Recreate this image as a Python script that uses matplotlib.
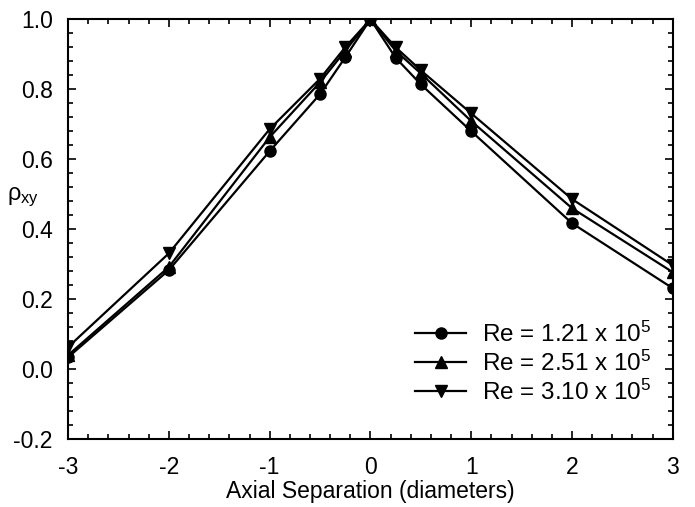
import matplotlib
matplotlib.use("Agg")
import matplotlib.pyplot as plt
from matplotlib.ticker import MultipleLocator

plt.rcParams['font.family'] = ['Liberation Sans', 'DejaVu Sans']
plt.rcParams['mathtext.fontset'] = 'custom'
plt.rcParams['mathtext.rm'] = 'Liberation Sans'
plt.rcParams['mathtext.it'] = 'Liberation Sans'

x = [-3, -2, -1, -0.5, -0.25, 0, 0.25, 0.5, 1, 2, 3]
re_121 = [0.034, 0.283, 0.623, 0.786, 0.891, 1.0, 0.89, 0.814, 0.68, 0.417, 0.231]
re_251 = [0.040, 0.292, 0.663, 0.820, 0.910, 1.0, 0.910, 0.845, 0.709, 0.460, 0.277]
re_310 = [0.063, 0.331, 0.686, 0.830, 0.920, 1.0, 0.920, 0.854, 0.731, 0.486, 0.297]
labels = ['Re = 1.21 x 10$^5$', 'Re = 2.51 x 10$^5$', 'Re = 3.10 x 10$^5$']
xticks = [-3, -2, -1, 0, 1, 2, 3]
yticks = [-0.2, 0.0, 0.2, 0.4, 0.6, 0.8, 1.0]

fig = plt.figure(figsize=(6.95, 5.07), dpi=100)
ax = fig.add_axes([0.098, 0.134, 0.870, 0.828])

ax.plot(x, re_121, color='black', lw=1.6, marker='o', ms=8, label=labels[0])
ax.plot(x, re_251, color='black', lw=1.6, marker='^', ms=8, label=labels[1])
ax.plot(x, re_310, color='black', lw=1.6, marker='v', ms=8, label=labels[2])

ax.set_xlim(-3, 3)
ax.set_ylim(-0.2, 1.0)
ax.set_xticks(xticks)
ax.set_xticklabels([str(t) for t in xticks])
ax.set_yticks(yticks)
ax.set_yticklabels([f"{t:.1f}" for t in yticks])
ax.xaxis.set_minor_locator(MultipleLocator(0.2))
ax.yaxis.set_minor_locator(MultipleLocator(0.04))
ax.tick_params(which='both', direction='in', top=True, right=True, width=1.2, labelsize=16.5, colors='black')
ax.tick_params(axis='x', which='major', length=6, pad=12)
ax.tick_params(axis='y', which='major', length=6, pad=11)
ax.tick_params(which='minor', length=3.5)
for s in ax.spines.values():
    s.set_linewidth(1.5)

ax.set_xlabel('Axial Separation (diameters)', fontsize=16.5, labelpad=1)
ax.set_ylabel(r'ρ$_{\mathrm{xy}}$', fontsize=17, rotation=0, labelpad=0, ha='center', va='center')
ax.yaxis.set_label_coords(-0.074, 0.575)

ax.legend(loc='center right', frameon=False, fontsize=17.5, handlelength=2.1,
          handletextpad=0.65, labelspacing=0.15, bbox_to_anchor=(0.965, 0.181),
          borderaxespad=0, borderpad=0)

fig.savefig('out.png', dpi=100)
